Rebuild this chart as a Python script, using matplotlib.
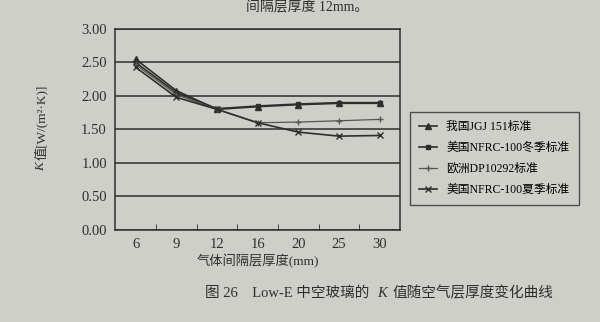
import matplotlib.pyplot as plt

plt.rcParams['font.family'] = ['Liberation Serif', 'Noto Sans CJK SC']

# 数据：气体间隔层厚度与各标准下的K值
thickness = ['6', '9', '12', '16', '20', '25', '30']
jgj151 = [2.55, 2.08, 1.80, 1.84, 1.87, 1.89, 1.89]
nfrc_winter = [2.50, 2.05, 1.81, 1.85, 1.88, 1.90, 1.90]
dp10292 = [2.47, 2.02, 1.80, 1.60, 1.61, 1.63, 1.65]
nfrc_summer = [2.43, 1.98, 1.80, 1.60, 1.46, 1.40, 1.41]
y_ticks = [0, 0.5, 1.0, 1.5, 2.0, 2.5, 3.0]

paper = '#cfcfca'
ink = '#2e2e2e'

fig = plt.figure(figsize=(6, 3.22), dpi=100, facecolor=paper)
ax = fig.add_axes([0.192, 0.286, 0.475, 0.624], facecolor=paper)

x = list(range(len(thickness)))
ax.plot(x, jgj151, color=ink, marker='^', markersize=4, linewidth=1.2, label='我国JGJ 151标准')
ax.plot(x, nfrc_winter, color=ink, marker='s', markersize=3.5, linewidth=1.2, label='美国NFRC-100冬季标准')
ax.plot(x, dp10292, color='#555555', marker='+', markersize=5, linewidth=0.9, label='欧洲DP10292标准')
ax.plot(x, nfrc_summer, color=ink, marker='x', markersize=4, linewidth=1.2, label='美国NFRC-100夏季标准')

ax.set_xlim(-0.5, len(thickness) - 0.5)
ax.set_ylim(0, 3.0)
ax.set_yticks(y_ticks)
ax.set_yticklabels([f'{v:.2f}' for v in y_ticks], fontsize=10.5, color=ink)
ax.set_xticks(x)
ax.set_xticklabels(thickness, fontsize=10.5, color=ink)
ax.set_xticks([i + 0.5 for i in x[:-1]], minor=True)
ax.tick_params(axis='both', which='major', length=0, pad=6)
ax.tick_params(axis='x', which='minor', direction='in', length=4, color=ink)
ax.grid(True, axis='y', color=ink, linewidth=1.1)
ax.set_axisbelow(True)
for s in ax.spines.values():
    s.set_color(ink)
    s.set_linewidth(1.1)

ax.set_xlabel('气体间隔层厚度(mm)', fontsize=9.5, color=ink, labelpad=2)

leg = ax.legend(loc='center left', bbox_to_anchor=(1.012, 0.355), fontsize=8.5,
                frameon=True, fancybox=False, edgecolor=ink, facecolor=paper,
                handlelength=1.5, labelspacing=0.75, borderpad=0.8)
leg.get_frame().set_linewidth(1.0)

fig.text(0.41, 0.998, '间隔层厚度 12mm。', fontsize=10, color=ink, va='top')

# y轴标题和图题里的K是斜体，分段写，按实际宽度拼接
fig.canvas.draw()
r = fig.canvas.get_renderer()
inv = fig.transFigure.inverted()

k1 = fig.text(0.068, 0.47, 'K', fontsize=9.5, color=ink, style='italic',
              rotation=90, ha='center', va='bottom')
bb = inv.transform_bbox(k1.get_window_extent(r))
fig.text(0.068, bb.y1 + 0.004, '值[W/(m²·K)]', fontsize=9.5, color=ink,
         rotation=90, ha='center', va='bottom')

t1 = fig.text(0.342, 0.078, '图 26    Low-E 中空玻璃的 ', fontsize=10.5, color=ink)
bb = inv.transform_bbox(t1.get_window_extent(r))
t2 = fig.text(bb.x1 + 0.006, 0.078, 'K', fontsize=10.5, color=ink, style='italic')
bb = inv.transform_bbox(t2.get_window_extent(r))
fig.text(bb.x1 + 0.01, 0.078, '值随空气层厚度变化曲线', fontsize=10.5, color=ink)

fig.savefig('out.png', dpi=100, facecolor=paper)
